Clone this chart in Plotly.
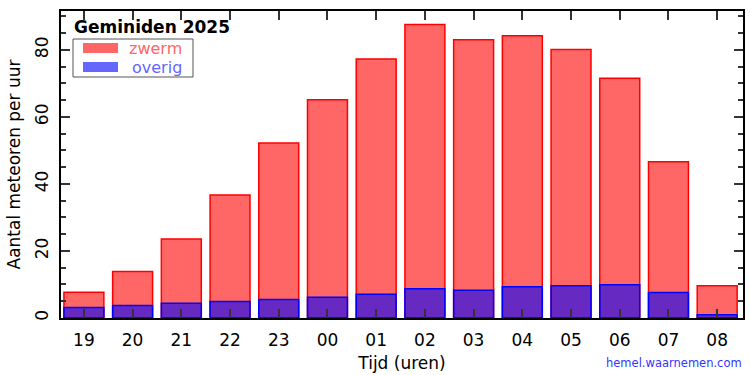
import plotly.graph_objects as go

hours = ["19", "20", "21", "22", "23", "00", "01", "02", "03", "04", "05", "06", "07", "08"]
zwerm = [7.7, 13.9, 23.6, 36.7, 52.2, 65.1, 77.3, 87.6, 83.0, 84.2, 80.1, 71.5, 46.6, 9.6]
overig = [3.1, 3.7, 4.4, 4.9, 5.5, 6.2, 7.1, 8.7, 8.3, 9.3, 9.6, 9.9, 7.6, 1.0]

FONT = "DejaVu Sans"
L, R, T, B = 61, 7, 11, 57
W, H = 750, 375
pw, ph = W - L - R, H - T - B

def px(x):
    return (x - L) / pw

def py(y):
    return 1 - (y - T) / ph

fig = go.Figure()
fig.add_trace(go.Bar(x=hours, y=zwerm, name="zwerm", width=0.82,
                     marker=dict(color="rgba(255,0,0,0.6)", line=dict(color="#ff0000", width=1.5)),
                     showlegend=False))
fig.add_trace(go.Bar(x=hours, y=overig, name="overig", width=0.82,
                     marker=dict(color="rgba(0,0,255,0.6)", line=dict(color="#0000ff", width=1.5)),
                     showlegend=False))

fig.update_layout(
    width=W, height=H,
    margin=dict(l=L, r=R, t=T, b=B),
    barmode="overlay",
    plot_bgcolor="white", paper_bgcolor="white",
    font=dict(family=FONT, size=16, color="black"),
    xaxis=dict(
        type="category", range=[-0.47, 13.53], automargin=False,
        showline=True, linecolor="black", linewidth=1.5, mirror="ticks",
        ticks="inside", ticklen=9, tickcolor="#333", tickwidth=1.5,
        showgrid=False, tickfont=dict(size=17), ticklabelstandoff=6,
        title=dict(text="Tijd (uren)", font=dict(size=17), standoff=8),
    ),
    yaxis=dict(
        range=[0, 91.6], dtick=20, tickangle=-90, automargin=False,
        showline=True, linecolor="black", linewidth=1.5, mirror="ticks",
        ticks="inside", ticklen=9, tickcolor="#333", tickwidth=1.5,
        showgrid=False, zeroline=False, tickfont=dict(size=17), ticklabelstandoff=4,
        minor=dict(ticks="inside", dtick=5, ticklen=5, tickcolor="#333", tickwidth=1.5, showgrid=False),
        title=dict(text="Aantal meteoren per uur", font=dict(size=17), standoff=8),
    ),
)

# title inside plot
fig.add_annotation(xref="paper", yref="paper", x=px(72), y=py(27), xanchor="left", yanchor="middle",
                   text="<b>Geminiden 2025</b>", showarrow=False, font=dict(size=17, family=FONT, color="black"))

# custom legend
fig.add_shape(type="rect", xref="paper", yref="paper", x0=px(73), x1=px(193), y0=py(77), y1=py(39),
              line=dict(color="#555", width=1), fillcolor="white", layer="above")
fig.add_shape(type="rect", xref="paper", yref="paper", x0=px(83), x1=px(118), y0=py(53), y1=py(43),
              line=dict(width=0), fillcolor="#ff6666", layer="above")
fig.add_shape(type="rect", xref="paper", yref="paper", x0=px(83), x1=px(118), y0=py(72), y1=py(62),
              line=dict(width=0), fillcolor="#6666ff", layer="above")
fig.add_annotation(xref="paper", yref="paper", x=px(184), y=py(48), xanchor="right", yanchor="middle",
                   text="zwerm", showarrow=False, font=dict(size=16, family=FONT, color="#ff6666"))
fig.add_annotation(xref="paper", yref="paper", x=px(184), y=py(67), xanchor="right", yanchor="middle",
                   text="overig", showarrow=False, font=dict(size=16, family=FONT, color="#6666ff"))

# credit
fig.add_annotation(xref="paper", yref="paper", x=px(744), y=py(363), xanchor="right", yanchor="middle",
                   text="hemel.waarnemen.com", showarrow=False, font=dict(size=11.5, family=FONT, color="#3333ff"))

fig.write_html("out.html")
